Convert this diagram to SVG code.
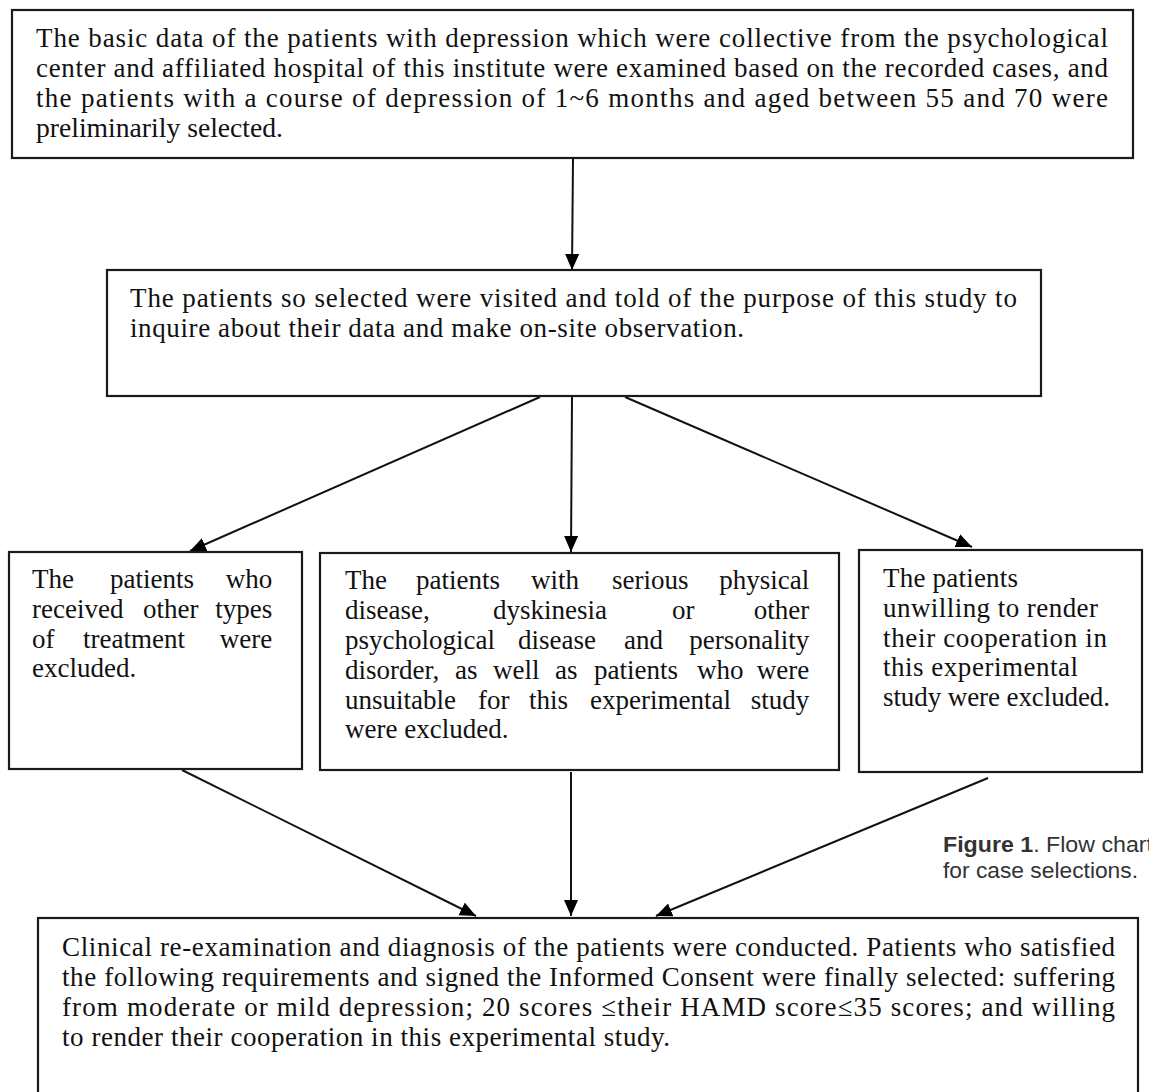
<svg xmlns="http://www.w3.org/2000/svg" width="1149" height="1092" viewBox="0 0 1149 1092">
<style>
.box{fill:#fff;stroke:#1a1a1a;stroke-width:2.2}
.t{font-family:"Liberation Serif","DejaVu Serif",serif;font-size:27px;fill:#111}
.c{stroke:#111;stroke-width:2;fill:none;marker-end:url(#ah)}
.cap{font-family:"Liberation Sans","Open Sans",sans-serif;font-size:22px;fill:#333}
</style>
<defs>
<marker id="ah" markerUnits="userSpaceOnUse" markerWidth="18" markerHeight="16" refX="16" refY="7" orient="auto">
<path d="M0,0 L16,7 L0,14 z" fill="#000"/>
</marker>
</defs>
<rect width="1149" height="1092" fill="#fff"/>

<g id="connectors">
<line class="c" x1="573" y1="159" x2="572" y2="270"/>
<line class="c" x1="540" y1="397" x2="190" y2="551"/>
<line class="c" x1="572" y1="397" x2="571" y2="552"/>
<line class="c" x1="625" y1="397" x2="972" y2="547"/>
<line class="c" x1="182" y1="770" x2="476" y2="916"/>
<line class="c" x1="571" y1="772" x2="571" y2="916"/>
<line class="c" x1="988" y1="778" x2="656" y2="916"/>
</g>

<g id="node1">
<rect class="box" x="12" y="10" width="1121" height="148"/>
<text class="t">
<tspan x="36" y="47" textLength="1072" lengthAdjust="spacing">The basic data of the patients with depression which were collective from the psychological</tspan>
<tspan x="36" y="77" textLength="1072" lengthAdjust="spacing">center and affiliated hospital of this institute were examined based on the recorded cases, and</tspan>
<tspan x="36" y="107" textLength="1072" lengthAdjust="spacing">the patients with a course of depression of 1~6 months and aged between 55 and 70 were</tspan>
<tspan x="36" y="137" textLength="247" lengthAdjust="spacingAndGlyphs">preliminarily selected.</tspan>
</text>
</g>

<g id="node2">
<rect class="box" x="107" y="270" width="934" height="126"/>
<text class="t">
<tspan x="130" y="307" textLength="887" lengthAdjust="spacing">The patients so selected were visited and told of the purpose of this study to</tspan>
<tspan x="130" y="337" textLength="614" lengthAdjust="spacing">inquire about their data and make on-site observation.</tspan>
</text>
</g>

<g id="node3">
<rect class="box" x="9" y="552" width="293" height="217"/>
<text class="t">
<tspan x="32" y="588">The</tspan><tspan x="110" y="588">patients</tspan><tspan x="279" y="588" text-anchor="end">who</tspan>
<tspan x="32" y="618">received</tspan><tspan x="143" y="618">other</tspan><tspan x="279" y="618" text-anchor="end">types</tspan>
<tspan x="32" y="648">of</tspan><tspan x="83" y="648">treatment</tspan><tspan x="279" y="648" text-anchor="end">were</tspan>
<tspan x="32" y="677">excluded.</tspan>
</text>
</g>

<g id="node4">
<rect class="box" x="320" y="553" width="519" height="217"/>
<text class="t">
<tspan x="345" y="589">The</tspan><tspan x="416" y="589">patients</tspan><tspan x="531" y="589">with</tspan><tspan x="612" y="589">serious</tspan><tspan x="816" y="589" text-anchor="end">physical</tspan>
<tspan x="345" y="619">disease,</tspan><tspan x="493" y="619">dyskinesia</tspan><tspan x="672" y="619">or</tspan><tspan x="816" y="619" text-anchor="end">other</tspan>
<tspan x="345" y="649">psychological</tspan><tspan x="518" y="649">disease</tspan><tspan x="624" y="649">and</tspan><tspan x="816" y="649" text-anchor="end">personality</tspan>
<tspan x="345" y="679">disorder,</tspan><tspan x="455" y="679">as</tspan><tspan x="493" y="679">well</tspan><tspan x="555" y="679">as</tspan><tspan x="594" y="679">patients</tspan><tspan x="697" y="679">who</tspan><tspan x="816" y="679" text-anchor="end">were</tspan>
<tspan x="345" y="709">unsuitable</tspan><tspan x="478" y="709">for</tspan><tspan x="529" y="709">this</tspan><tspan x="590" y="709">experimental</tspan><tspan x="816" y="709" text-anchor="end">study</tspan>
<tspan x="345" y="738">were excluded.</tspan>
</text>
</g>

<g id="node5">
<rect class="box" x="859" y="550" width="283" height="222"/>
<text class="t">
<tspan x="883" y="587" textLength="135" lengthAdjust="spacing">The patients</tspan>
<tspan x="883" y="617" textLength="215" lengthAdjust="spacing">unwilling to render</tspan>
<tspan x="883" y="647" textLength="224" lengthAdjust="spacing">their cooperation in</tspan>
<tspan x="883" y="676" textLength="195" lengthAdjust="spacing">this experimental</tspan>
<tspan x="883" y="706" textLength="227" lengthAdjust="spacing">study were excluded.</tspan>
</text>
</g>

<g id="node6">
<rect class="box" x="38" y="918" width="1100" height="200"/>
<text class="t">
<tspan x="62" y="956" textLength="1053" lengthAdjust="spacing">Clinical re-examination and diagnosis of the patients were conducted. Patients who satisfied</tspan>
<tspan x="62" y="986" textLength="1053" lengthAdjust="spacing">the following requirements and signed the Informed Consent were finally selected: suffering</tspan>
<tspan x="62" y="1016" textLength="1053" lengthAdjust="spacing">from moderate or mild depression; 20 scores  ≤their HAMD score≤35 scores; and willing</tspan>
<tspan x="62" y="1046" textLength="608" lengthAdjust="spacing">to render their cooperation in this experimental study.</tspan>
</text>
</g>

<g id="caption">
<text class="cap" x="943" y="852" textLength="210" lengthAdjust="spacingAndGlyphs"><tspan font-weight="bold">Figure 1</tspan>. Flow chart</text>
<text class="cap" x="943" y="878" textLength="195" lengthAdjust="spacingAndGlyphs">for case selections.</text>
</g>
</svg>
